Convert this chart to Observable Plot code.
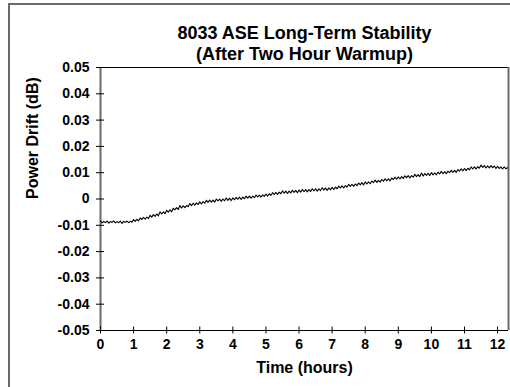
<!DOCTYPE html>
<html>
<head>
<meta charset="utf-8">
<script src="https://cdn.jsdelivr.net/npm/d3@7"></script>
<script src="https://cdn.jsdelivr.net/npm/@observablehq/plot@0.6"></script>
<style>
  html, body { margin: 0; padding: 0; background: #fff; overflow: hidden; }
  #wrap { position: relative; width: 510px; height: 387px; overflow: hidden; }
  #border { position: absolute; left: 8px; top: 3px; width: 540px; height: 420px; border: 2px solid #6a6a6a; box-sizing: border-box; }
  #chart { position: absolute; left: 0; top: 0; }
</style>
</head>
<body>
<div id="wrap"><div id="border"></div><div id="chart"></div></div>
<script>
// Chart text
const title1 = "8033 ASE Long-Term Stability";
const title2 = "(After Two Hour Warmup)";
const xLabel = "Time (hours)";
const yLabel = "Power Drift (dB)";

// Axis ticks
const xTicks = [0, 1, 2, 3, 4, 5, 6, 7, 8, 9, 10, 11, 12];
const yTicks = [-0.05, -0.04, -0.03, -0.02, -0.01, 0, 0.01, 0.02, 0.03, 0.04, 0.05];
const xDomain = [0, 12.33];
const yDomain = [-0.05, 0.05];

// Sampling interval of the trace (hours)
const sampleStep = 0.05;

// Power drift readings (dB), one every sampleStep hours
const drift = [
  // 0 - 1 h
  -0.0083,-0.0091,-0.0085,-0.0090,-0.0084,-0.0092,-0.0086,-0.0089,-0.0083,-0.0091,
  -0.0086,-0.0090,-0.0084,-0.0093,-0.0085,-0.0089,-0.0084,-0.0090,-0.0085,-0.0088,
  // 1 - 2 h
  -0.0078,-0.0085,-0.0077,-0.0083,-0.0072,-0.0078,-0.0070,-0.0077,-0.0069,-0.0074,
  -0.0062,-0.0069,-0.0059,-0.0066,-0.0057,-0.0064,-0.0049,-0.0057,-0.0049,-0.0056,
  // 2 - 3 h
  -0.0043,-0.0050,-0.0041,-0.0049,-0.0035,-0.0041,-0.0033,-0.0040,-0.0025,-0.0034,
  -0.0026,-0.0033,-0.0025,-0.0029,-0.0017,-0.0025,-0.0016,-0.0023,-0.0015,-0.0021,
  // 3 - 4 h
  -0.0011,-0.0019,-0.0010,-0.0016,-0.0005,-0.0013,-0.0004,-0.0012,-0.0004,-0.0012,
  0.0000,-0.0007,0.0000,-0.0009,0.0000,-0.0007,0.0004,-0.0005,0.0003,-0.0006,
  // 4 - 5 h
  0.0004,-0.0003,0.0006,-0.0001,0.0007,-0.0002,0.0007,0.0001,0.0011,0.0003,
  0.0011,0.0003,0.0011,0.0005,0.0015,0.0008,0.0015,0.0007,0.0016,0.0010,
  // 5 - 6 h
  0.0019,0.0011,0.0020,0.0014,0.0024,0.0017,0.0025,0.0017,0.0026,0.0020,
  0.0031,0.0022,0.0030,0.0021,0.0030,0.0023,0.0033,0.0025,0.0033,0.0024,
  // 6 - 7 h
  0.0034,0.0026,0.0036,0.0028,0.0036,0.0027,0.0036,0.0029,0.0039,0.0031,
  0.0039,0.0030,0.0039,0.0032,0.0043,0.0034,0.0042,0.0033,0.0042,0.0035,
  // 7 - 8 h
  0.0044,0.0036,0.0045,0.0039,0.0049,0.0042,0.0050,0.0042,0.0051,0.0045,
  0.0056,0.0048,0.0056,0.0048,0.0057,0.0051,0.0061,0.0054,0.0062,0.0054,
  // 8 - 9 h
  0.0065,0.0057,0.0065,0.0058,0.0068,0.0062,0.0072,0.0063,0.0071,0.0064,
  0.0074,0.0068,0.0077,0.0069,0.0077,0.0069,0.0080,0.0074,0.0083,0.0075,
  // 9 - 10 h
  0.0084,0.0076,0.0085,0.0078,0.0088,0.0081,0.0089,0.0080,0.0089,0.0083,
  0.0094,0.0085,0.0093,0.0085,0.0099,0.0087,0.0097,0.0090,0.0098,0.0089,
  // 10 - 11 h
  0.0100,0.0092,0.0099,0.0092,0.0102,0.0095,0.0105,0.0096,0.0104,0.0096,
  0.0106,0.0100,0.0109,0.0101,0.0109,0.0101,0.0112,0.0106,0.0115,0.0107,
  // 11 - 12 h
  0.0116,0.0108,0.0117,0.0111,0.0122,0.0114,0.0122,0.0114,0.0123,0.0117,
  0.0129,0.0120,0.0127,0.0118,0.0126,0.0118,0.0127,0.0119,0.0125,0.0116,
  // 12 - 12.3 h
  0.0124,0.0116,0.0122,0.0114,0.0122,0.0115,0.0119
];

const data = drift.map((v, i) => ({time: i * sampleStep, drift: v}));

const font = "'Liberation Sans', Arial, Helvetica, sans-serif";

const chart = Plot.plot({
  width: 510,
  height: 387,
  marginLeft: 100,
  marginRight: 2,
  marginTop: 67,
  marginBottom: 57,
  style: {fontFamily: font, fontWeight: "bold", fontSize: "14px", color: "#000", background: "transparent", overflow: "visible"},
  x: {domain: xDomain, ticks: xTicks, label: null},
  y: {domain: yDomain, ticks: yTicks, label: null},
  marks: [
    Plot.ruleY(yDomain, {stroke: "#000", strokeWidth: 1}),
    Plot.ruleX(xDomain, {stroke: "#6a6a6a", strokeWidth: 2}),
    Plot.axisX({ticks: xTicks, tickSize: 7, tickPadding: 2, tickFormat: d => String(d), fontSize: 14, fontWeight: "bold", stroke: "#000", label: null}),
    Plot.axisY({ticks: yTicks, tickSize: 8, tickPadding: 3, tickFormat: d => d === 0 ? "0" : d.toFixed(2), fontSize: 14, fontWeight: "bold", stroke: "#000", label: null}),
    Plot.line(data, {x: "time", y: "drift", stroke: "#000", strokeWidth: 1.1}),
    Plot.text([title1], {frameAnchor: "top", dy: -41, fontSize: 18, fontWeight: "bold"}),
    Plot.text([title2], {frameAnchor: "top", dy: -20, fontSize: 18, fontWeight: "bold"}),
    Plot.text([xLabel], {frameAnchor: "bottom", dy: 42, fontSize: 16, fontWeight: "bold"}),
    Plot.text([yLabel], {frameAnchor: "left", dx: -68, rotate: -90, fontSize: 16, fontWeight: "bold"})
  ]
});

// Make axis ticks cross the axis line
const svg = d3.select(chart);
svg.selectAll('g[aria-label="y-axis tick"]').each(function() {
  const t = this.getAttribute("transform") || "";
  this.setAttribute("transform", (t + " translate(4,0)").trim());
});
svg.selectAll('g[aria-label="x-axis tick"]').each(function() {
  const t = this.getAttribute("transform") || "";
  this.setAttribute("transform", (t + " translate(0,-3.5)").trim());
});

document.getElementById("chart").appendChild(chart);
</script>
</body>
</html>
